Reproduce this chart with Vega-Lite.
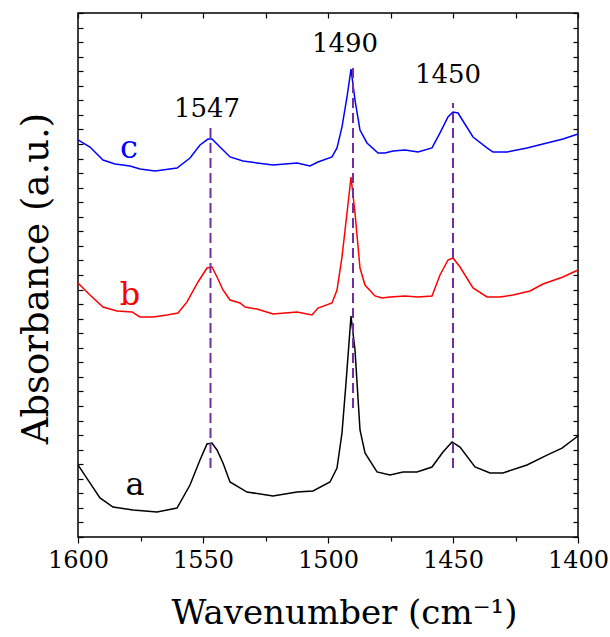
{
  "$schema": "https://vega.github.io/schema/vega-lite/v6.json",
  "width": 500,
  "height": 524,
  "autosize": {"type": "none"},
  "padding": {"left": 78, "top": 13, "right": 32, "bottom": 100},
  "background": "white",
  "config": {
    "font": "DejaVu Serif",
    "view": {"stroke": "black", "strokeWidth": 1.5},
    "axis": {"domain": false, "grid": false, "tickColor": "black", "tickWidth": 1.2, "labelFont": "DejaVu Serif", "titleFont": "DejaVu Serif", "labelColor": "black", "titleColor": "black", "titleFontWeight": "normal"}
  },
  "datasets": {
    "curves": [
      {"wn": 1600, "abs": 4.95, "s": "a"}, {"wn": 1596.5, "abs": 4.05, "s": "a"}, {"wn": 1591.2, "abs": 2.68, "s": "a"}, {"wn": 1586, "abs": 2.06, "s": "a"}, {"wn": 1578, "abs": 1.86, "s": "a"}, {"wn": 1568.4, "abs": 1.72, "s": "a"}, {"wn": 1560.4, "abs": 1.99, "s": "a"}, {"wn": 1555.2, "abs": 3.57, "s": "a"}, {"wn": 1551.2, "abs": 5.29, "s": "a"}, {"wn": 1548.4, "abs": 6.39, "s": "a"}, {"wn": 1546.4, "abs": 6.46, "s": "a"}, {"wn": 1544.4, "abs": 5.98, "s": "a"}, {"wn": 1542, "abs": 5.08, "s": "a"}, {"wn": 1539.2, "abs": 3.78, "s": "a"}, {"wn": 1532.4, "abs": 3.09, "s": "a"}, {"wn": 1522, "abs": 2.82, "s": "a"}, {"wn": 1512.4, "abs": 3.09, "s": "a"}, {"wn": 1506, "abs": 3.16, "s": "a"}, {"wn": 1499.2, "abs": 3.78, "s": "a"}, {"wn": 1496.4, "abs": 4.74, "s": "a"}, {"wn": 1494.4, "abs": 7.15, "s": "a"}, {"wn": 1492.8, "abs": 10.58, "s": "a"}, {"wn": 1490.8, "abs": 15.18, "s": "a"}, {"wn": 1489.2, "abs": 12.85, "s": "a"}, {"wn": 1487.2, "abs": 7.35, "s": "a"}, {"wn": 1485.2, "abs": 5.77, "s": "a"}, {"wn": 1480.4, "abs": 4.47, "s": "a"}, {"wn": 1475.2, "abs": 4.26, "s": "a"}, {"wn": 1470, "abs": 4.47, "s": "a"}, {"wn": 1464.4, "abs": 4.47, "s": "a"}, {"wn": 1458.4, "abs": 4.81, "s": "a"}, {"wn": 1454, "abs": 5.84, "s": "a"}, {"wn": 1450.4, "abs": 6.53, "s": "a"}, {"wn": 1447.2, "abs": 6.18, "s": "a"}, {"wn": 1441.2, "abs": 4.81, "s": "a"}, {"wn": 1435.2, "abs": 4.4, "s": "a"}, {"wn": 1430, "abs": 4.4, "s": "a"}, {"wn": 1420.4, "abs": 4.95, "s": "a"}, {"wn": 1412.4, "abs": 5.63, "s": "a"}, {"wn": 1406.4, "abs": 6.11, "s": "a"}, {"wn": 1400, "abs": 6.94, "s": "a"},
      {"wn": 1600, "abs": 17.45, "s": "b"}, {"wn": 1595.2, "abs": 16.63, "s": "b"}, {"wn": 1590, "abs": 15.8, "s": "b"}, {"wn": 1584.4, "abs": 15.53, "s": "b"}, {"wn": 1578.4, "abs": 15.46, "s": "b"}, {"wn": 1575.2, "abs": 15.12, "s": "b"}, {"wn": 1570, "abs": 15.12, "s": "b"}, {"wn": 1564.4, "abs": 15.25, "s": "b"}, {"wn": 1560, "abs": 15.39, "s": "b"}, {"wn": 1556.4, "abs": 16.15, "s": "b"}, {"wn": 1552, "abs": 17.52, "s": "b"}, {"wn": 1548.4, "abs": 18.48, "s": "b"}, {"wn": 1546.4, "abs": 18.55, "s": "b"}, {"wn": 1544.4, "abs": 17.86, "s": "b"}, {"wn": 1542, "abs": 16.97, "s": "b"}, {"wn": 1539.2, "abs": 16.28, "s": "b"}, {"wn": 1535.2, "abs": 16.08, "s": "b"}, {"wn": 1533.2, "abs": 15.8, "s": "b"}, {"wn": 1528.4, "abs": 15.66, "s": "b"}, {"wn": 1522, "abs": 15.32, "s": "b"}, {"wn": 1512.4, "abs": 15.46, "s": "b"}, {"wn": 1506.4, "abs": 15.25, "s": "b"}, {"wn": 1504, "abs": 15.73, "s": "b"}, {"wn": 1498.4, "abs": 16.08, "s": "b"}, {"wn": 1496.4, "abs": 16.97, "s": "b"}, {"wn": 1494.4, "abs": 19.24, "s": "b"}, {"wn": 1492.4, "abs": 22.26, "s": "b"}, {"wn": 1490.8, "abs": 24.73, "s": "b"}, {"wn": 1489.2, "abs": 22.26, "s": "b"}, {"wn": 1487.2, "abs": 18.48, "s": "b"}, {"wn": 1485.2, "abs": 17.31, "s": "b"}, {"wn": 1481.2, "abs": 16.56, "s": "b"}, {"wn": 1478.4, "abs": 16.42, "s": "b"}, {"wn": 1475.2, "abs": 16.49, "s": "b"}, {"wn": 1469.2, "abs": 16.56, "s": "b"}, {"wn": 1464, "abs": 16.49, "s": "b"}, {"wn": 1458.4, "abs": 16.56, "s": "b"}, {"wn": 1455.2, "abs": 18.0, "s": "b"}, {"wn": 1452, "abs": 19.03, "s": "b"}, {"wn": 1450, "abs": 19.17, "s": "b"}, {"wn": 1447.2, "abs": 18.55, "s": "b"}, {"wn": 1442, "abs": 17.11, "s": "b"}, {"wn": 1436.4, "abs": 16.49, "s": "b"}, {"wn": 1431.2, "abs": 16.49, "s": "b"}, {"wn": 1426, "abs": 16.63, "s": "b"}, {"wn": 1419.2, "abs": 16.9, "s": "b"}, {"wn": 1414, "abs": 17.38, "s": "b"}, {"wn": 1406, "abs": 17.86, "s": "b"}, {"wn": 1400, "abs": 18.34, "s": "b"},
      {"wn": 1600, "abs": 27.28, "s": "c"}, {"wn": 1595.2, "abs": 26.79, "s": "c"}, {"wn": 1590, "abs": 25.9, "s": "c"}, {"wn": 1585.2, "abs": 25.63, "s": "c"}, {"wn": 1579.2, "abs": 25.49, "s": "c"}, {"wn": 1575.2, "abs": 25.28, "s": "c"}, {"wn": 1569.2, "abs": 25.15, "s": "c"}, {"wn": 1560.4, "abs": 25.35, "s": "c"}, {"wn": 1555.2, "abs": 26.04, "s": "c"}, {"wn": 1551.2, "abs": 26.93, "s": "c"}, {"wn": 1548, "abs": 27.34, "s": "c"}, {"wn": 1546.4, "abs": 27.34, "s": "c"}, {"wn": 1543.2, "abs": 26.79, "s": "c"}, {"wn": 1539.2, "abs": 26.11, "s": "c"}, {"wn": 1534, "abs": 25.83, "s": "c"}, {"wn": 1528.4, "abs": 25.7, "s": "c"}, {"wn": 1522, "abs": 25.56, "s": "c"}, {"wn": 1512.4, "abs": 25.7, "s": "c"}, {"wn": 1507.2, "abs": 25.49, "s": "c"}, {"wn": 1504, "abs": 25.76, "s": "c"}, {"wn": 1498.4, "abs": 26.11, "s": "c"}, {"wn": 1496.4, "abs": 26.73, "s": "c"}, {"wn": 1494.4, "abs": 28.17, "s": "c"}, {"wn": 1492.4, "abs": 30.23, "s": "c"}, {"wn": 1490.8, "abs": 32.15, "s": "c"}, {"wn": 1489.2, "abs": 30.02, "s": "c"}, {"wn": 1487.2, "abs": 27.96, "s": "c"}, {"wn": 1484.4, "abs": 27.07, "s": "c"}, {"wn": 1480, "abs": 26.38, "s": "c"}, {"wn": 1477.2, "abs": 26.38, "s": "c"}, {"wn": 1474, "abs": 26.52, "s": "c"}, {"wn": 1469.2, "abs": 26.59, "s": "c"}, {"wn": 1464, "abs": 26.45, "s": "c"}, {"wn": 1458.4, "abs": 26.73, "s": "c"}, {"wn": 1455.2, "abs": 27.76, "s": "c"}, {"wn": 1452, "abs": 28.86, "s": "c"}, {"wn": 1450, "abs": 29.2, "s": "c"}, {"wn": 1448, "abs": 29.13, "s": "c"}, {"wn": 1442, "abs": 27.48, "s": "c"}, {"wn": 1436.4, "abs": 26.73, "s": "c"}, {"wn": 1434, "abs": 26.45, "s": "c"}, {"wn": 1428.4, "abs": 26.45, "s": "c"}, {"wn": 1420.4, "abs": 26.73, "s": "c"}, {"wn": 1414, "abs": 27.0, "s": "c"}, {"wn": 1406, "abs": 27.34, "s": "c"}, {"wn": 1400, "abs": 27.69, "s": "c"}
    ],
    "peaks": [
      {"wn": 1547, "y1": 4.74, "y2": 28.1, "label": "1547", "ly": 28.86, "lx": 1548.4},
      {"wn": 1490, "y1": 8.86, "y2": 32.36, "label": "1490", "ly": 33.32, "lx": 1493.2},
      {"wn": 1450, "y1": 4.74, "y2": 29.82, "label": "1450", "ly": 31.19, "lx": 1452}
    ],
    "names": [
      {"s": "c", "wn": 1579.6, "abs": 26.04},
      {"s": "b", "wn": 1579.2, "abs": 15.94},
      {"s": "a", "wn": 1577.2, "abs": 2.89}
    ]
  },
  "resolve": {"axis": {"x": "independent", "y": "independent"}},
  "layer": [
    {
      "data": {"name": "curves"},
      "mark": {"type": "line", "strokeWidth": 1.5},
      "encoding": {
        "x": {"field": "wn", "type": "quantitative",
          "scale": {"domain": [1400, 1600], "reverse": true, "nice": false, "zero": false},
          "axis": {"orient": "bottom", "values": [1600, 1575, 1550, 1525, 1500, 1475, 1450, 1425, 1400], "format": "d",
            "labelExpr": "datum.value % 50 === 0 ? datum.label : ''",
            "tickSize": {"condition": {"test": "datum.value % 50 === 0", "value": 6}, "value": 4},
            "labelFont": "DejaVu Serif", "labelFontSize": 24, "labelPadding": 5, "labelFlush": false, "labelOverlap": false,
            "title": "Wavenumber (cm⁻¹)", "titleFont": "DejaVu Serif", "titleFontSize": 34, "titleX": 266, "titleY": 86, "titleBaseline": "alphabetic", "titleAlign": "center"}},
        "y": {"field": "abs", "type": "quantitative",
          "scale": {"domain": [0, 36], "nice": false, "zero": false},
          "axis": {"orient": "left", "values": [0,1,2,3,4,5,6,7,8,9,10,11,12,13,14,15,16,17,18,19,20,21,22,23,24,25,26,27,28,29,30,31,32,33,34,35,36],
            "labels": false, "tickSize": -5,
            "title": "Absorbance (a.u.)", "titleFont": "DejaVu Serif", "titleFontSize": 37, "titleX": -31, "titleY": 265, "titleBaseline": "alphabetic", "titleAlign": "center", "titleAngle": -90}},
        "color": {"field": "s", "type": "nominal", "scale": {"domain": ["a", "b", "c"], "range": ["#000000", "#ff0000", "#0000ff"]}, "legend": null},
        "detail": {"field": "s"}
      }
    },
    {
      "data": {"name": "peaks"},
      "mark": {"type": "rule", "color": "#7030A0", "strokeWidth": 2, "strokeDash": [10, 5]},
      "encoding": {
        "x": {"field": "wn", "type": "quantitative",
          "scale": {"domain": [1400, 1600], "reverse": true, "nice": false, "zero": false},
          "axis": {"orient": "top", "values": [1600, 1575, 1550, 1525, 1500, 1475, 1450, 1425, 1400], "labels": false, "tickSize": -5, "title": null}},
        "y": {"field": "y1", "type": "quantitative",
          "scale": {"domain": [0, 36], "nice": false, "zero": false},
          "axis": {"orient": "right", "values": [0,1,2,3,4,5,6,7,8,9,10,11,12,13,14,15,16,17,18,19,20,21,22,23,24,25,26,27,28,29,30,31,32,33,34,35,36], "labels": false, "tickSize": -5, "title": null}},
        "y2": {"field": "y2"}
      }
    },
    {
      "data": {"name": "peaks"},
      "mark": {"type": "text", "font": "DejaVu Serif", "fontSize": 26, "color": "black", "baseline": "alphabetic", "align": "center"},
      "encoding": {
        "x": {"field": "lx", "type": "quantitative", "scale": {"domain": [1400, 1600], "reverse": true, "nice": false, "zero": false}, "axis": null},
        "y": {"field": "ly", "type": "quantitative", "scale": {"domain": [0, 36], "nice": false, "zero": false}, "axis": null},
        "text": {"field": "label"}
      }
    },
    {
      "data": {"name": "names"},
      "mark": {"type": "text", "font": "DejaVu Serif", "fontSize": 32, "baseline": "alphabetic", "align": "center"},
      "encoding": {
        "x": {"field": "wn", "type": "quantitative", "scale": {"domain": [1400, 1600], "reverse": true, "nice": false, "zero": false}, "axis": null},
        "y": {"field": "abs", "type": "quantitative", "scale": {"domain": [0, 36], "nice": false, "zero": false}, "axis": null},
        "text": {"field": "s"},
        "color": {"field": "s", "type": "nominal", "scale": {"domain": ["a", "b", "c"], "range": ["#000000", "#ff0000", "#0000ff"]}, "legend": null}
      }
    }
  ]
}
